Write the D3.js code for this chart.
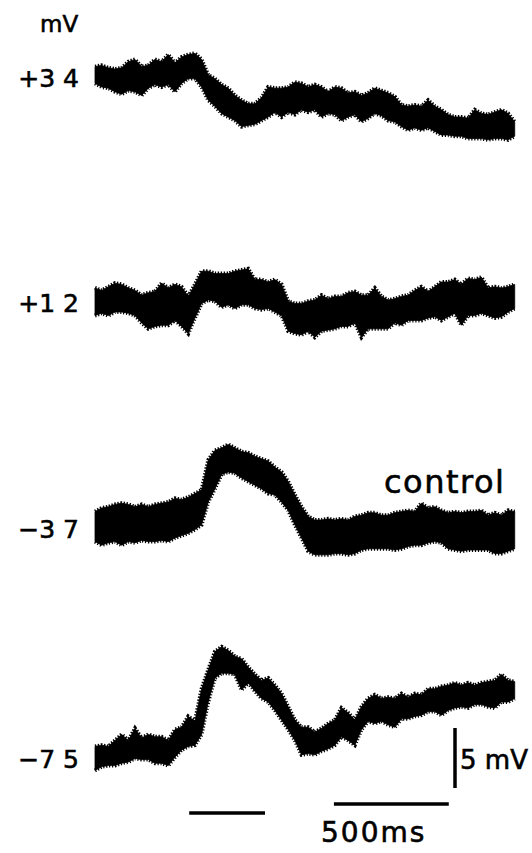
<!DOCTYPE html>
<html>
<head>
<meta charset="utf-8">
<script src="https://cdn.jsdelivr.net/npm/d3@7"></script>
<style>
  html, body { margin: 0; background: #fff; }
  svg { display: block; }
  text { font-family: "DejaVu Sans", sans-serif; fill: #000; stroke: #000; stroke-width: 0.6px; }
</style>
</head>
<body>
<svg id="fig" width="532" height="853"></svg>
<script>
// Membrane potential recordings: envelope of each noisy trace (mV, relative to
// the level at the start of the sweep), one sample every 29 ms.
const sampleMs = 29;
const holdingLabels = ["+3 4", "+1 2", "\u22123 7", "\u22127 5"];

const upper34 = [0.7,0.8,0.6,0.5,0.6,1.1,1.3,0.7,0.8,1.3,1.1,1.7,1.0,1.5,1.7,1.8,1.3,0.0,-0.3,-0.8,-1.1,-1.7,-2.1,-2.4,-2.4,-1.9,-1.0,-1.1,-1.1,-1.0,-0.6,-0.7,-1.0,-0.8,-1.0,-1.4,-1.0,-1.1,-1.5,-1.4,-1.7,-1.5,-1.1,-1.3,-1.5,-1.8,-2.5,-2.6,-2.5,-2.6,-2.1,-2.6,-2.9,-3.3,-3.5,-3.5,-3.6,-2.9,-3.2,-3.3,-3.1,-2.9,-3.2,-3.9];
const lower34 = [-0.7,-1.0,-1.1,-1.4,-1.6,-1.3,-1.4,-1.7,-1.1,-0.8,-1.0,-0.8,-1.4,-0.7,-0.3,-0.3,-1.0,-2.1,-2.6,-3.2,-3.5,-3.8,-4.3,-4.2,-4.1,-3.8,-3.5,-3.1,-3.5,-3.1,-3.3,-2.9,-3.1,-2.9,-3.5,-3.2,-3.3,-3.8,-3.5,-3.3,-3.9,-3.6,-3.2,-3.4,-3.8,-3.9,-4.3,-4.6,-4.4,-4.6,-4.4,-4.7,-5.0,-5.0,-5.1,-5.1,-5.3,-5.3,-5.3,-5.4,-5.3,-5.3,-5.4,-5.1];

const upper12 = [1.0,0.8,1.1,1.4,1.3,1.0,0.8,0.4,0.6,0.7,1.4,1.0,1.3,1.1,0.3,1.3,2.4,2.4,2.2,2.2,2.2,2.4,2.5,2.6,1.7,1.7,1.5,1.7,1.3,-0.1,-0.3,-0.3,-0.1,0.0,0.4,0.1,0.3,0.3,0.6,0.7,0.4,0.4,1.0,0.3,0.0,0.1,0.3,0.4,0.8,1.1,0.7,1.1,1.5,1.5,1.7,1.3,1.8,1.7,1.9,1.0,1.1,1.0,1.1,1.3];
const lower12 = [-1.3,-1.1,-1.3,-1.0,-1.0,-1.1,-1.3,-1.9,-2.4,-2.2,-2.1,-2.1,-1.7,-2.2,-2.8,-1.5,-0.3,0.0,-0.1,-0.6,-0.4,-0.7,-0.4,-0.4,-0.7,-0.8,-0.7,-1.0,-1.3,-2.6,-2.8,-2.9,-2.6,-3.1,-2.6,-2.5,-2.4,-2.2,-2.2,-1.9,-3.1,-2.4,-2.4,-2.4,-2.4,-1.9,-2.1,-1.7,-1.7,-1.7,-1.5,-1.4,-1.7,-1.4,-1.1,-2.1,-1.3,-1.3,-1.1,-1.3,-1.5,-1.4,-1.0,-0.7];

const upperControl = [1.2,1.5,1.6,1.8,1.9,1.8,1.6,1.8,1.6,1.8,1.9,2.0,2.3,2.2,2.4,2.7,3.0,5.5,6.3,6.5,6.8,6.5,6.2,6.1,5.8,5.6,5.4,4.9,4.5,3.7,2.6,1.6,0.8,0.5,0.5,0.6,0.5,0.6,0.5,0.8,0.9,1.1,1.1,0.9,0.9,1.1,1.2,1.3,1.2,1.9,1.5,1.6,1.3,1.1,1.2,1.1,1.2,1.2,1.3,0.9,1.1,0.9,1.3,1.2];
const lowerControl = [-1.3,-1.6,-1.4,-1.3,-1.6,-1.3,-1.4,-1.2,-1.3,-1.3,-1.2,-1.3,-1.0,-0.8,-0.6,-0.3,0.1,2.0,3.1,4.3,4.5,4.4,4.0,3.7,3.4,3.1,2.7,2.6,2.0,1.3,0.1,-1.0,-2.1,-2.4,-2.4,-2.4,-2.3,-2.3,-2.4,-2.3,-2.0,-1.9,-1.9,-1.9,-1.9,-2.0,-1.9,-1.7,-1.6,-1.6,-1.4,-1.3,-1.4,-1.9,-2.0,-2.1,-2.0,-2.0,-2.0,-2.0,-2.3,-2.3,-2.1,-1.9];

const upper75 = [0.8,0.9,0.8,1.3,1.8,1.3,2.3,1.5,1.8,1.6,1.6,1.3,2.2,2.4,3.3,2.9,5.6,7.2,8.7,9.1,8.8,8.3,8.1,7.4,6.8,6.3,6.5,5.9,5.2,4.1,3.0,2.4,2.4,2.0,2.3,2.7,3.0,4.0,3.6,3.0,4.1,4.8,5.1,4.8,4.9,4.8,5.2,4.9,5.2,5.1,5.6,5.6,5.8,5.9,6.1,5.9,6.1,5.9,6.1,6.2,6.3,6.8,6.3,6.2];
const lower75 = [-1.2,-0.9,-0.8,-0.8,-0.6,-0.5,-0.2,-0.3,-0.3,-0.6,-0.6,-0.8,-0.1,0.5,0.8,0.9,1.8,4.5,6.5,6.9,6.9,6.8,5.5,6.1,5.4,4.8,4.5,3.8,3.0,2.2,1.3,0.1,0.2,0.1,0.4,0.6,0.9,1.6,1.3,0.9,2.2,2.9,2.7,2.9,2.6,2.4,3.1,3.1,3.3,3.4,3.7,3.7,3.4,3.8,4.0,4.1,4.0,4.3,4.3,4.1,4.0,4.5,4.5,4.8];

// Stimulus period and calibration bars
const stimulusMs = [410, 740];
const timeBarMs = [1040, 1540];
const voltBarMv = 5;
const unitText = "mV";
const controlText = "control";
const timeBarText = "500ms";
const voltBarText = "5 mV";

const traces = [
  { label: holdingLabels[0], upper: upper34, lower: lower34 },
  { label: holdingLabels[1], upper: upper12, lower: lower12 },
  { label: holdingLabels[2], upper: upperControl, lower: lowerControl },
  { label: holdingLabels[3], upper: upper75, lower: lower75 }
];

const svg = d3.select("#fig");
svg.append("rect").attr("width", 532).attr("height", 853).attr("fill", "#fff");

// time axis shared by all sweeps; voltage offsets share one gain
const x = d3.scaleLinear().domain([0, 1850]).range([95, 520]);
const dv = d3.scaleLinear().domain([0, 1]).range([0, -12]);
const rowZero = [75, 300, 526, 756];

const band = d3.area()
  .x((d, i) => x(i * sampleMs))
  .y0(d => dv(d[1]))
  .y1(d => dv(d[0]))
  .curve(d3.curveLinear);

const edge = d3.line()
  .x((d, i) => x(i * sampleMs))
  .y(d => dv(d))
  .curve(d3.curveLinear);

traces.forEach((tr, i) => {
  const g = svg.append("g").attr("transform", `translate(0,${rowZero[i]})`);
  g.append("path")
    .datum(d3.zip(tr.upper, tr.lower))
    .attr("d", band)
    .attr("fill", "#000")
    .attr("stroke", "#000")
    .attr("stroke-width", 0.8)
    .attr("stroke-linejoin", "miter");
  // bristly outline of the noise band
  [tr.upper, tr.lower].forEach((env, j) => {
    g.append("path")
      .datum(env)
      .attr("d", edge)
      .attr("fill", "none")
      .attr("stroke", "#000")
      .attr("stroke-width", 4)
      .attr("stroke-dasharray", j ? "1.2 1.8" : "1.4 1.6");
  });
  g.append("text")
    .attr("x", 79)
    .attr("y", 12)
    .attr("text-anchor", "end")
    .attr("font-size", 25)
    .text(tr.label);
});

svg.append("text")
  .attr("x", 40).attr("y", 32)
  .attr("font-size", 23)
  .text(unitText);

svg.append("text")
  .attr("x", 384).attr("y", 493)
  .attr("font-size", 32)
  .attr("letter-spacing", 1.5)
  .text(controlText);

// stimulus marker
svg.append("line")
  .attr("x1", x(stimulusMs[0])).attr("x2", x(stimulusMs[1]))
  .attr("y1", 813).attr("y2", 813)
  .attr("stroke", "#000").attr("stroke-width", 3.5);

// time calibration
svg.append("line")
  .attr("x1", x(timeBarMs[0])).attr("x2", x(timeBarMs[1]))
  .attr("y1", 804).attr("y2", 804)
  .attr("stroke", "#000").attr("stroke-width", 3.5);
svg.append("text")
  .attr("x", 321).attr("y", 842)
  .attr("font-size", 28)
  .attr("letter-spacing", 2)
  .text(timeBarText);

// voltage calibration
const vBase = 788;
svg.append("line")
  .attr("x1", 455).attr("x2", 455)
  .attr("y1", vBase).attr("y2", vBase + dv(voltBarMv))
  .attr("stroke", "#000").attr("stroke-width", 3.5);
svg.append("text")
  .attr("x", 460).attr("y", 769)
  .attr("font-size", 26)
  .text(voltBarText);
</script>
</body>
</html>
